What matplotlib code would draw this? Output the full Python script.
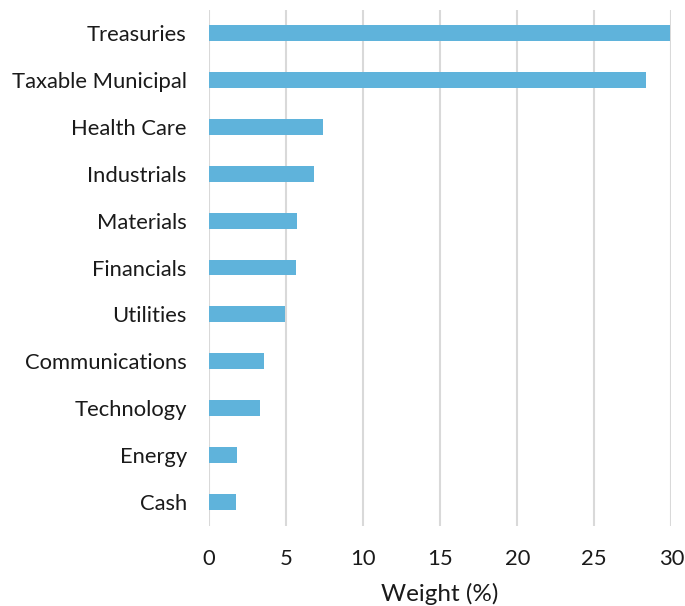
import matplotlib
matplotlib.use("Agg")
import matplotlib.pyplot as plt

plt.rcParams["font.family"] = ["Lato", "DejaVu Sans"]

categories = ["Treasuries", "Taxable Municipal", "Health Care", "Industrials",
              "Materials", "Financials", "Utilities", "Communications",
              "Technology", "Energy", "Cash"]
weights = [29.93, 28.38, 7.38, 6.82, 5.71, 5.67, 4.94, 3.55, 3.29, 1.82, 1.73]
xticks = [0, 5, 10, 15, 20, 25, 30]

fig = plt.figure(figsize=(6.85, 6.06), dpi=100)
ax = fig.add_axes([209 / 685, 1 - 525.5 / 606, 462.3 / 685, 516 / 606])

pos = list(range(len(categories)))
ax.barh(pos, weights, height=0.34, color="#5fb3db", zorder=3)

ax.set_ylim(len(categories) - 0.5, -0.5)
ax.set_xlim(0, 30)
ax.set_xticks(xticks)
ax.set_yticks(pos)
ax.set_yticklabels(categories, fontsize=15.8, color="#1a1a1a")
ax.tick_params(axis="x", labelsize=15.8, colors="#1a1a1a", length=0, pad=17)
ax.tick_params(axis="y", length=0, pad=16)

ax.grid(axis="x", color="#d9d9d9", linewidth=1.5, zorder=0)
for s in ax.spines.values():
    s.set_visible(False)

ax.set_xlabel("Weight (%)", fontsize=17.5, color="#1a1a1a", labelpad=10)

fig.savefig("out.png", dpi=100)
